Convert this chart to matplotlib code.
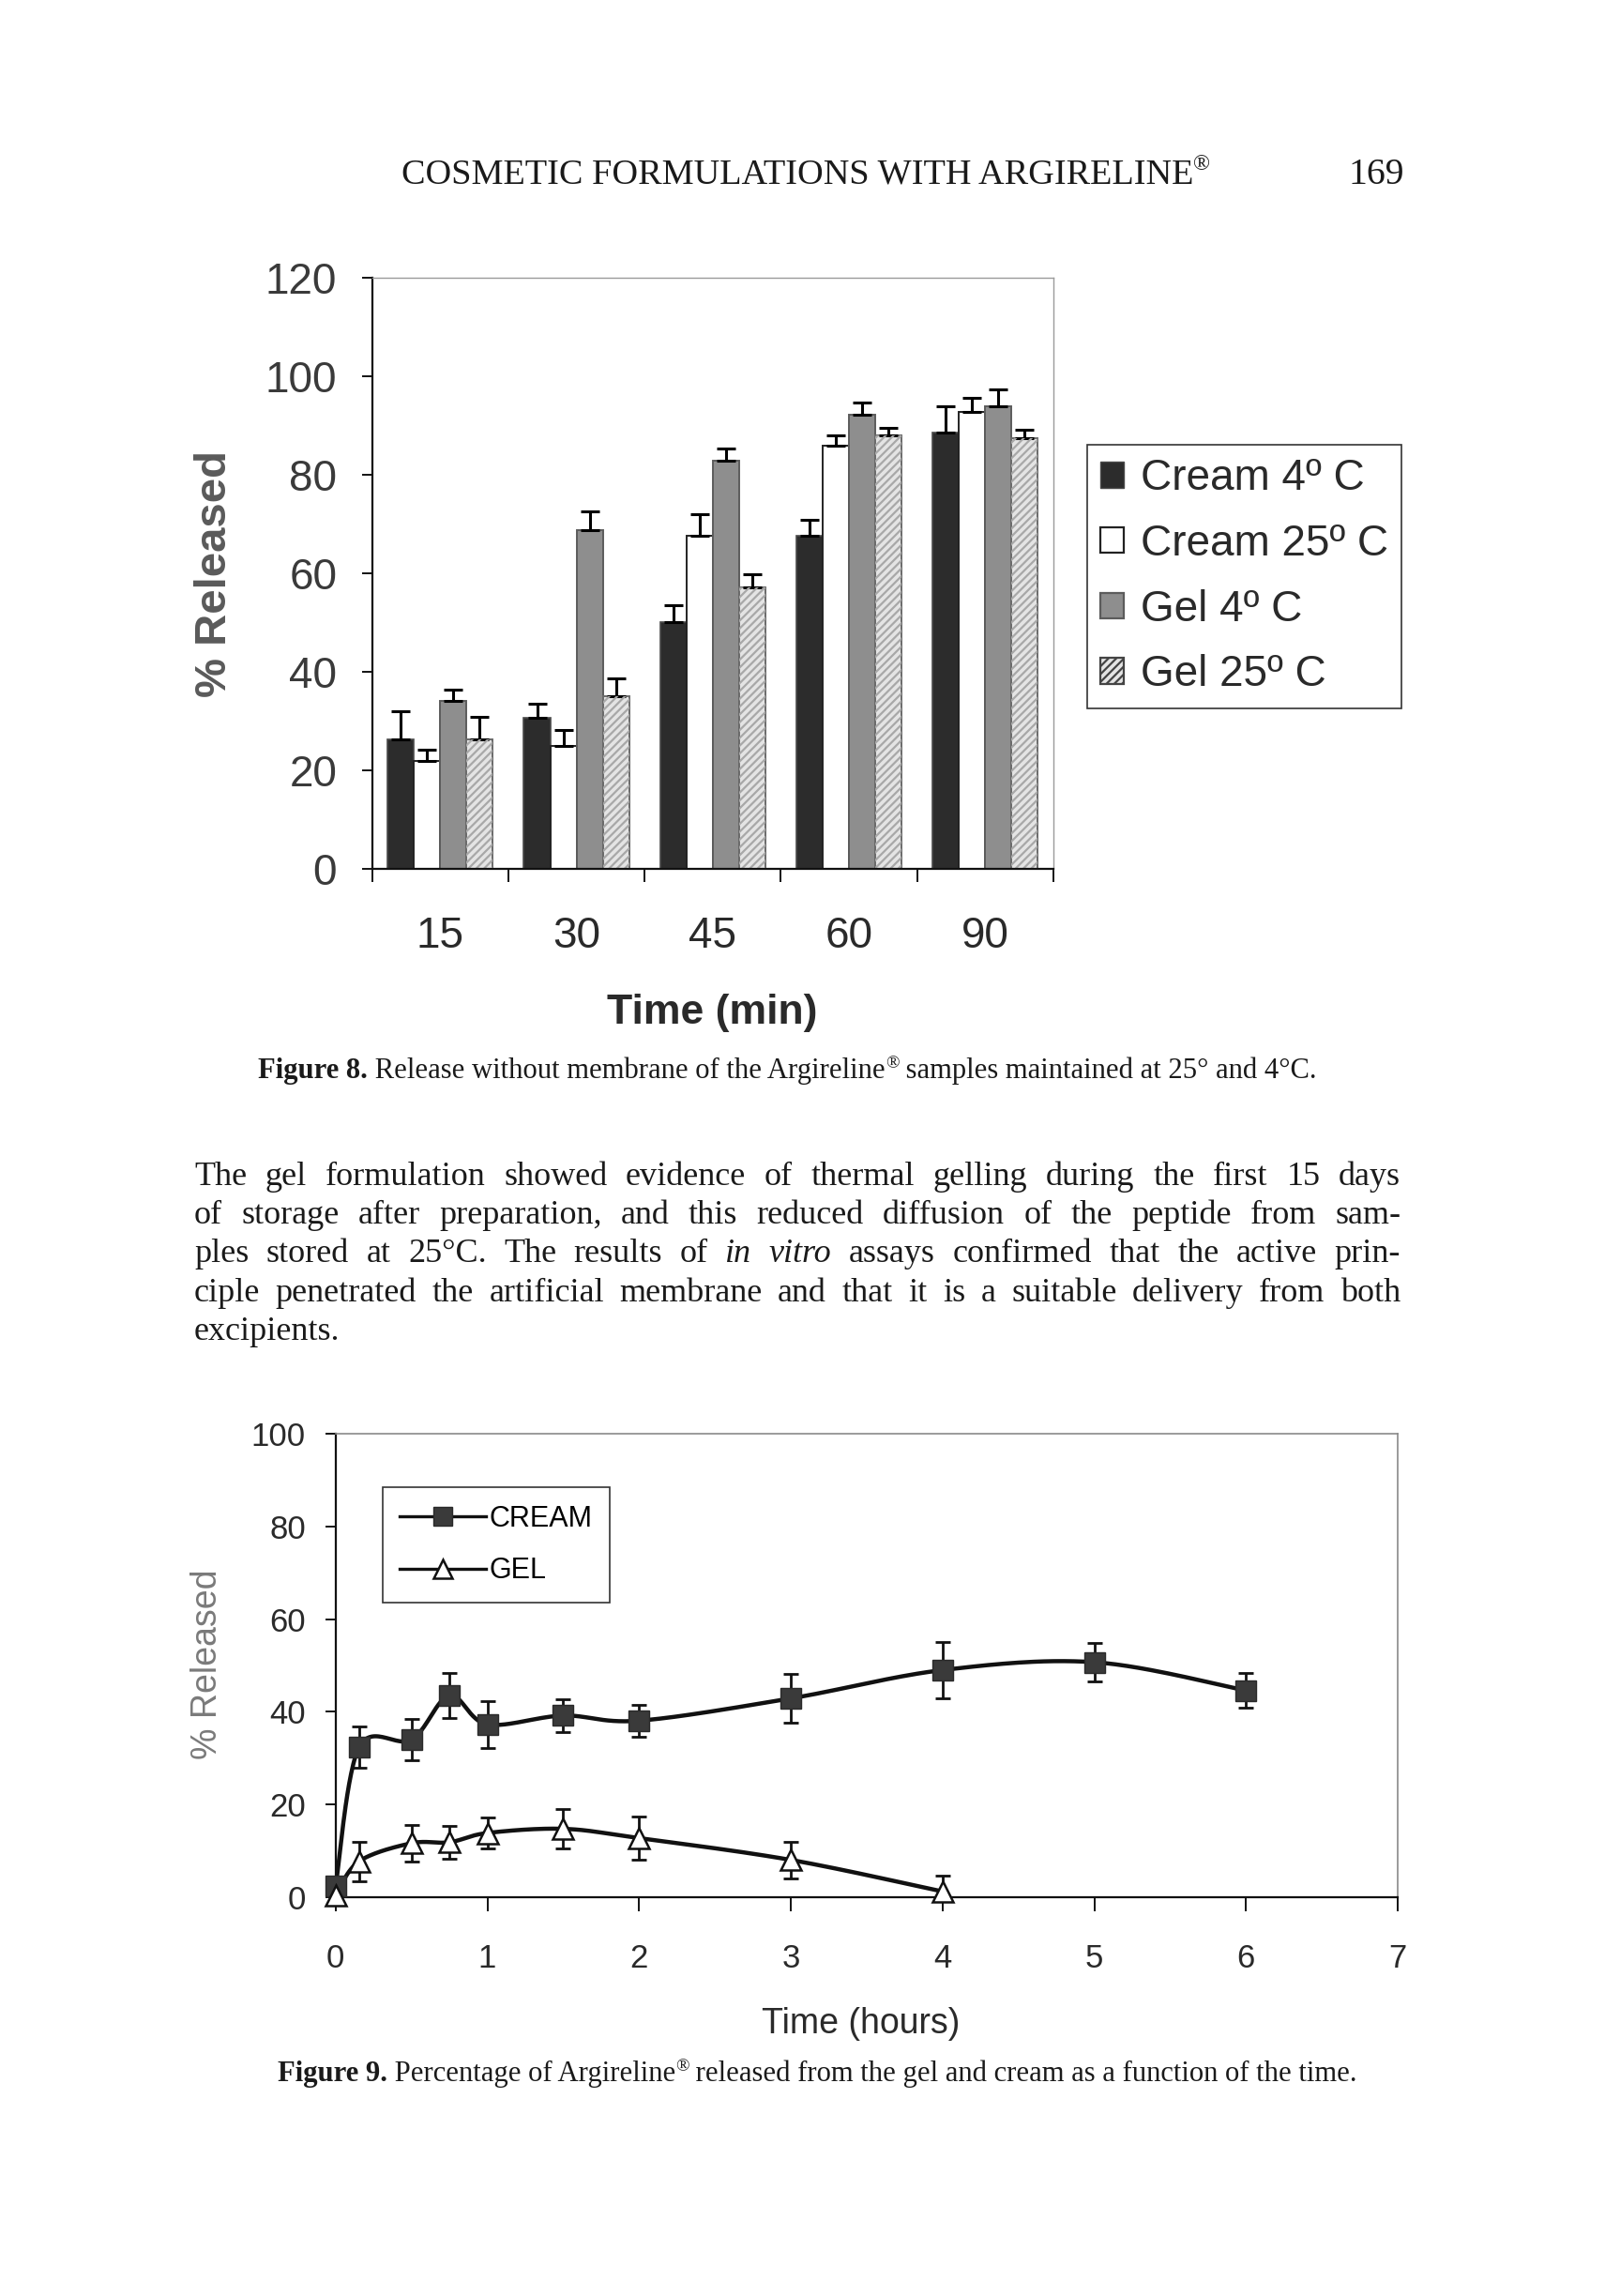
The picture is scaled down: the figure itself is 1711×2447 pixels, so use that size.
import numpy as np
import matplotlib
matplotlib.use('Agg')
import matplotlib.pyplot as plt
from matplotlib.patches import Patch
from matplotlib.lines import Line2D
from matplotlib.transforms import IdentityTransform

plt.rcParams['font.family'] = ['Liberation Sans', 'DejaVu Sans']
plt.rcParams['hatch.linewidth'] = 1.6

# ---------------- Figure 8 data ----------------
times_min = ['15', '30', '45', '60', '90']
series8 = ['Cream 4º C', 'Cream 25º C', 'Gel 4º C', 'Gel 25º C']
cream4 = [26.3, 30.6, 50.0, 67.5, 88.5]
cream4_err = [5.6, 2.8, 3.4, 3.3, 5.4]
cream25 = [21.9, 24.8, 67.5, 85.8, 92.7]
cream25_err = [2.3, 3.3, 4.4, 2.1, 2.8]
gel4 = [34.0, 68.6, 82.8, 92.2, 93.8]
gel4_err = [2.3, 3.9, 2.4, 2.4, 3.4]
gel25 = [26.3, 34.9, 57.1, 87.9, 87.3]
gel25_err = [4.4, 3.6, 2.6, 1.6, 1.7]

# ---------------- Figure 9 data ----------------
t_cream = [0, 0.155, 0.5, 0.75, 1.0, 1.5, 2, 3, 4, 5, 6]
cream = [2.4, 32.4, 34.0, 43.5, 37.3, 39.2, 38.1, 42.9, 49.0, 50.7, 44.6]
cream_err = [1.5, 4.5, 4.5, 4.8, 5.0, 3.5, 3.5, 5.2, 6.0, 4.2, 3.7]
t_gel = [0, 0.155, 0.5, 0.75, 1.0, 1.5, 2, 3, 4]
gel = [0.5, 7.8, 11.7, 11.9, 13.9, 14.8, 12.8, 8.1, 1.3]
gel_err = [0, 4.2, 3.9, 3.5, 3.4, 4.2, 4.6, 3.9, 3.4]

W, H = 1711, 2447
S = W / 1100.0  # reference display -> pixel scale

fig = plt.figure(figsize=(W / 100, H / 100), dpi=100)
fig.patch.set_facecolor('white')
renderer = fig.canvas.get_renderer()
ID = IdentityTransform()
serif = ['Liberation Serif', 'DejaVu Serif']
txtc = '#1a1a1a'


def axrect(l, t, r, b):
    return [l / 1100, 1 - b / 1573, (r - l) / 1100, (b - t) / 1573]


def smooth(x, y, n=30):
    P = np.column_stack([x, y]).astype(float)
    m = len(P)
    out = []
    for i in range(m - 1):
        p0 = P[max(i - 1, 0)]
        p1 = P[i]
        p2 = P[i + 1]
        p3 = P[min(i + 2, m - 1)]
        t = np.linspace(0, 1, n, endpoint=False)[:, None]
        c = 0.5 * ((2 * p1) + (-p0 + p2) * t + (2 * p0 - 5 * p1 + 4 * p2 - p3) * t ** 2
                   + (-p0 + 3 * p1 - 3 * p2 + p3) * t ** 3)
        out.append(c)
    out.append(P[-1:])
    c = np.vstack(out)
    return c[:, 0], c[:, 1]


# ====================== Figure 8 (bars) ======================
ax1 = fig.add_axes(axrect(255, 190, 722, 595))
x = np.arange(len(times_min))
w = 0.193
ekw = dict(ecolor='black', elinewidth=2.2, capsize=7.5, capthick=2.2)
z = np.zeros(len(x))
ax1.bar(x - 1.5 * w, cream4, w, color='#2c2c2c', edgecolor='#4a4a4a', lw=1.2,
        yerr=[z, cream4_err], error_kw=ekw, zorder=2)
ax1.bar(x - 0.5 * w, cream25, w, color='white', edgecolor='#222222', lw=1.4,
        yerr=[z, cream25_err], error_kw=ekw, zorder=2)
ax1.bar(x + 0.5 * w, gel4, w, color='#8e8e8e', edgecolor='#5c5c5c', lw=1.4,
        yerr=[z, gel4_err], error_kw=ekw, zorder=2)
ax1.bar(x + 1.5 * w, gel25, w, color='#e4e4e4', edgecolor='#6a6a6a', lw=1.4,
        yerr=[z, gel25_err], error_kw=ekw, zorder=2)
ax1.bar(x + 1.5 * w, gel25, w, color='none', edgecolor='#a8a8a8', lw=0,
        hatch='////', zorder=2.1)

ax1.set_xlim(-0.5, len(x) - 0.5)
ax1.set_ylim(0, 120)
ax1.set_yticks(range(0, 121, 20))
ax1.set_xticks(x)
ax1.set_xticklabels(times_min)
ax1.set_xticks(np.arange(-0.5, len(x), 1), minor=True)
ax1.tick_params(axis='x', which='major', length=0, pad=36, labelsize=33, labelcolor='#2a2a2a')
ax1.tick_params(axis='x', which='minor', length=10, width=1.3, direction='out')
ax1.tick_params(axis='y', length=8, width=1.3, direction='out', pad=19, labelsize=33,
                labelcolor='#3a3a3a')
for s in ['left', 'bottom']:
    ax1.spines[s].set_color('#111111')
    ax1.spines[s].set_linewidth(1.6)
for s in ['top', 'right']:
    ax1.spines[s].set_color('#9a9a9a')
    ax1.spines[s].set_linewidth(1.0)
ax1.set_xlabel('Time (min)', fontsize=32, fontweight='bold', color='#2a2a2a')
ax1.xaxis.set_label_coords(0.499, -0.245)
ax1.xaxis.label.set_va('center')
ax1.set_ylabel('% Released', fontsize=34, fontweight='bold', color='#5a5a5a')
ax1.yaxis.set_label_coords(-0.231, 0.499)
ax1.yaxis.label.set_va('center')

h8 = [Patch(facecolor='#2c2c2c', edgecolor='#4a4a4a'),
      Patch(facecolor='white', edgecolor='#222222', lw=1.6),
      Patch(facecolor='#8e8e8e', edgecolor='#5c5c5c', lw=1.6),
      Patch(facecolor='#e4e4e4', edgecolor='#444444', lw=1.6, hatch='////')]
leg1 = fig.legend(h8, series8, loc='upper left', bbox_to_anchor=(745 / 1100, 1 - 305 / 1573),
                  bbox_transform=fig.transFigure, fontsize=33, frameon=True, fancybox=False,
                  edgecolor='#333333', framealpha=1, borderaxespad=0, borderpad=0.3,
                  handlelength=0.55, handleheight=0.55, handletextpad=0.4,
                  labelspacing=0.56)
leg1.get_frame().set_linewidth(1.2)
for t in leg1.get_texts():
    t.set_color('#2a2a2a')

# ====================== Figure 9 (lines) ======================
ax2 = fig.add_axes(axrect(230, 982, 958, 1300))
ax2.errorbar(t_cream, cream, yerr=cream_err, fmt='none', ecolor='#111111', elinewidth=2.0,
             capsize=5.5, capthick=2.0, zorder=3)
ax2.errorbar(t_gel, gel, yerr=gel_err, fmt='none', ecolor='#111111', elinewidth=2.0,
             capsize=5.5, capthick=2.0, zorder=3)
sx, sy = smooth(t_cream, cream)
ax2.plot(sx, sy, color='#111111', lw=3.2, zorder=4, clip_on=False)
gx, gy = smooth(t_gel, gel)
ax2.plot(gx, gy, color='#111111', lw=3.2, zorder=4, clip_on=False)
ax2.plot(t_cream, cream, ls='none', marker='s', ms=15.5, mfc='#3a3a3a', mec='#2a2a2a',
         zorder=5, clip_on=False)
ax2.plot(t_gel, gel, ls='none', marker='^', ms=16, mfc='white', mec='#111111', mew=1.8,
         zorder=5, clip_on=False)
ax2.set_xlim(0, 7)
ax2.set_ylim(0, 100)
ax2.set_xticks(range(0, 8))
ax2.set_yticks(range(0, 101, 20))
ax2.tick_params(axis='x', length=11, width=1.3, direction='out', pad=24, labelsize=25,
                labelcolor='#2a2a2a')
ax2.tick_params(axis='y', length=8, width=1.3, direction='out', pad=15, labelsize=25,
                labelcolor='#2a2a2a')
for s in ['left', 'bottom']:
    ax2.spines[s].set_color('#111111')
    ax2.spines[s].set_linewidth(1.6)
for s in ['top', 'right']:
    ax2.spines[s].set_color('#8a8a8a')
    ax2.spines[s].set_linewidth(1.2)
ax2.set_xlabel('Time (hours)', fontsize=27, color='#2a2a2a')
ax2.xaxis.set_label_coords(0.4945, -0.272)
ax2.xaxis.label.set_va('center')
ax2.set_ylabel('% Released', fontsize=27, color='#7a7a7a')
ax2.yaxis.set_label_coords(-0.121, 0.503)
ax2.yaxis.label.set_va('center')

h9 = [Line2D([], [], color='#111111', lw=2.4, marker='s', ms=14, mfc='#3a3a3a', mec='#2a2a2a'),
      Line2D([], [], color='#111111', lw=2.4, marker='^', ms=15, mfc='white', mec='#111111',
             mew=1.8)]
leg2 = fig.legend(h9, ['CREAM', 'GEL'], loc='upper left',
                  bbox_to_anchor=(262 / 1100, 1 - 1019 / 1573), bbox_transform=fig.transFigure,
                  fontsize=22, frameon=True, fancybox=False, edgecolor='#333333', framealpha=1,
                  borderaxespad=0, borderpad=0.6, handlelength=3.0, handletextpad=0.12,
                  labelspacing=0.85)
leg2.get_frame().set_linewidth(1.2)


# ====================== Page text ======================
def place(xp, ybase, s, **kw):
    return fig.text(xp, H - ybase, s, transform=ID, va='baseline', ha='left', **kw)


def width_of(s, **kw):
    t = place(0, 0, s, **kw)
    wd = t.get_window_extent(renderer).width
    t.remove()
    return wd


def draw_segments(xp, ybase, segs):
    for s, kw, dy in segs:
        t = place(xp, ybase - dy, s, **kw)
        xp += t.get_window_extent(renderer).width
    return xp


def segs_width(segs):
    return sum(width_of(s, **kw) for s, kw, dy in segs)


def fit_line(segs_fn, target, fs0=20):
    w0 = segs_width(segs_fn(fs0))
    return fs0 * target / w0


# Header
def header(fs):
    return [('COSMETIC FORMULATIONS WITH ARGIRELINE', dict(family=serif, fontsize=fs, color=txtc), 0),
            ('®', dict(family=serif, fontsize=fs * 0.62, color=txtc), fs * 0.55)]

fsh = fit_line(header, (830 - 275) * S, 24)
draw_segments(275 * S, 126 * S, header(fsh))
t169 = fig.text(943 * S, H - 126 * S, '169', transform=ID, ha='center', va='baseline',
                family=serif, fontsize=fsh * 1.04, color=txtc)


# Captions
def cap8(fs):
    return [('Figure 8.', dict(family=serif, fontsize=fs, fontweight='bold', color=txtc), 0),
            (' Release without membrane of the Argireline', dict(family=serif, fontsize=fs, color=txtc), 0),
            ('®', dict(family=serif, fontsize=fs * 0.62, color=txtc), fs * 0.5),
            (' samples maintained at 25° and 4°C.', dict(family=serif, fontsize=fs, color=txtc), 0)]


def cap9(fs):
    return [('Figure 9.', dict(family=serif, fontsize=fs, fontweight='bold', color=txtc), 0),
            (' Percentage of Argireline', dict(family=serif, fontsize=fs, color=txtc), 0),
            ('®', dict(family=serif, fontsize=fs * 0.62, color=txtc), fs * 0.5),
            (' released from the gel and cream as a function of the time.',
             dict(family=serif, fontsize=fs, color=txtc), 0)]

fs8 = fit_line(cap8, (916 - 177) * S, 18)
fs9 = fit_line(cap9, (919 - 190) * S, 18)
fsc = 0.5 * (fs8 + fs9)
draw_segments(177 * S, 739 * S, cap8(fsc))
draw_segments(190 * S, 1426 * S, cap9(fsc))

# Body paragraph (justified)
body_lines = [
    "The gel formulation showed evidence of thermal gelling during the first 15 days",
    "of storage after preparation, and this reduced diffusion of the peptide from sam-",
    "ples stored at 25°C. The results of |in |vitro assays confirmed that the active prin-",
    "ciple penetrated the artificial membrane and that it is a suitable delivery from both",
    "excipients.",
]
fsb = 26
x_left, x_right = 133 * S, 960 * S
base0 = 812 * S
pitch = 26.5 * S
for i, line in enumerate(body_lines):
    words = line.split(' ')
    segs = []
    for wd in words:
        if wd.startswith('|'):
            segs.append([(wd[1:], dict(family=serif, fontsize=fsb, style='italic', color=txtc), 0)])
        else:
            segs.append([(wd, dict(family=serif, fontsize=fsb, color=txtc), 0)])
    yb = base0 + i * pitch
    if i == len(body_lines) - 1:
        draw_segments(x_left, yb, segs[0])
        continue
    widths = [segs_width(sg) for sg in segs]
    gap = (x_right - x_left - sum(widths)) / (len(segs) - 1)
    xp = x_left
    for sg, wd in zip(segs, widths):
        draw_segments(xp, yb, sg)
        xp += wd + gap

fig.savefig('out.png', dpi=100, facecolor='white')
